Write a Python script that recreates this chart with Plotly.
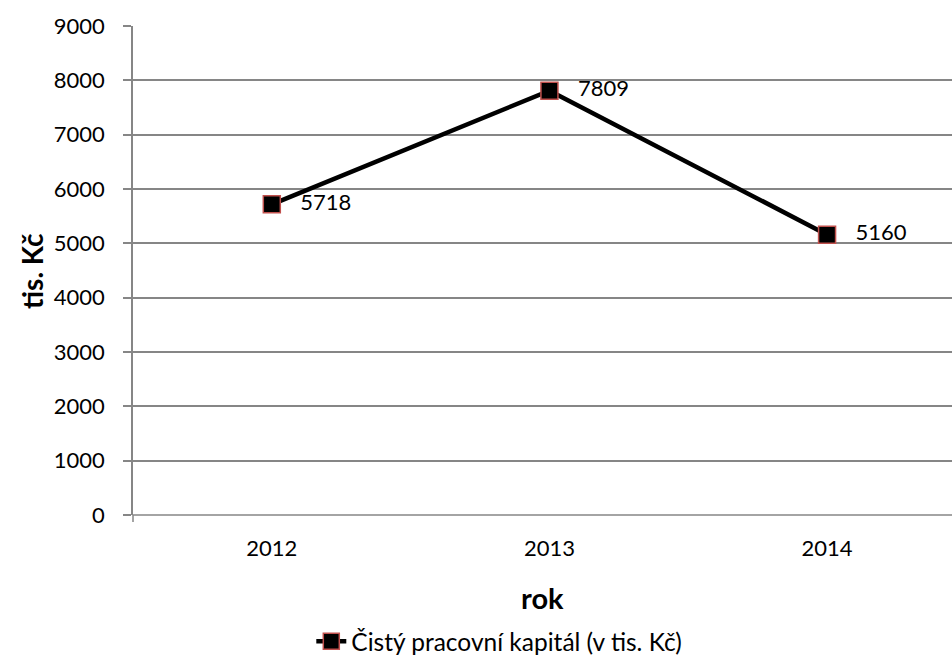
import plotly.graph_objects as go

years = ["2012", "2013", "2014"]
values = [5718, 7809, 5160]
series_name = "Čistý pracovní kapitál (v tis. Kč)"
y_ticks = [0, 1000, 2000, 3000, 4000, 5000, 6000, 7000, 8000, 9000]

FONT = "Lato"
GRID = "#868686"
FS = 22

fig = go.Figure()
fig.add_trace(go.Scatter(
    x=years, y=values, name=series_name,
    mode="lines+markers+text",
    line=dict(color="black", width=4.5),
    marker=dict(symbol="square", size=17, color="black",
                line=dict(color="#C0504D", width=1.5)),
    text=["   " + str(v) for v in values],
    textposition="middle right",
    textfont=dict(family=FONT, size=FS, color="black"),
    cliponaxis=False,
))

fig.update_layout(
    width=952, height=666,
    margin=dict(l=133, r=0, t=26, b=151, autoexpand=False),
    paper_bgcolor="white", plot_bgcolor="white",
    font=dict(family=FONT, size=FS, color="black"),
    showlegend=True,
    legend=dict(orientation="h", x=0.327, xanchor="left", xref="container",
                y=0.037, yanchor="middle", yref="container",
                font=dict(family=FONT, size=24.5, color="black"),
                itemwidth=30, tracegroupgap=0),
    xaxis=dict(
        type="category", range=[-0.5, 2.45], automargin=False,
        showgrid=False, showline=False, zeroline=False,
        ticks="", tickfont=dict(family=FONT, size=FS),
        ticklabelstandoff=18,
    ),
    yaxis=dict(
        range=[0, 9000], tickvals=y_ticks, automargin=False,
        showgrid=True, gridcolor=GRID, gridwidth=1.5,
        showline=True, linecolor=GRID, linewidth=1.5,
        ticks="outside", ticklen=8, tickcolor=GRID, tickwidth=1.5,
        zeroline=False, tickfont=dict(family=FONT, size=FS),
        ticklabelstandoff=14,
    ),
    annotations=[
        dict(text="<b>tis. Kč</b>", textangle=-90, xref="paper", yref="paper",
             x=-0.124, y=0.5, showarrow=False, xanchor="center", yanchor="middle",
             font=dict(family=FONT, size=28)),
        dict(text="<b>rok</b>", xref="paper", yref="paper",
             x=0.5, y=-0.168, showarrow=False, xanchor="center", yanchor="middle",
             font=dict(family=FONT, size=29)),
    ],
    shapes=[
        dict(type="line", xref="paper", yref="paper", x0=0, x1=1, y0=0, y1=0,
             line=dict(color=GRID, width=1.5), layer="below"),
        dict(type="line", xref="paper", yref="paper", x0=0, x1=0, y0=0, y1=-7/489,
             line=dict(color=GRID, width=1.5)),
    ],
)

fig.write_html("out.html")
